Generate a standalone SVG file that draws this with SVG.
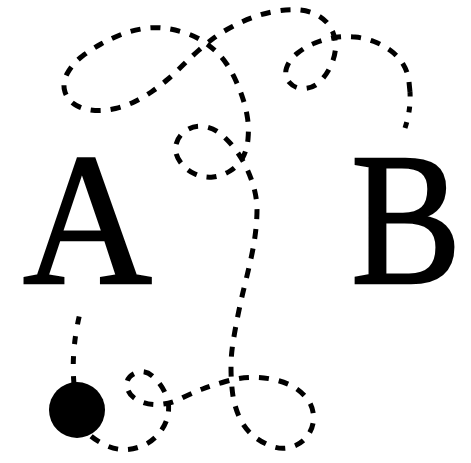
<svg xmlns="http://www.w3.org/2000/svg" width="471" height="463" viewBox="0 0 471 463">
<style>
.lbl{font-family:"Liberation Serif","Times New Roman",serif;font-size:188px;fill:#000;stroke:#000;stroke-width:2.6}
.trail{fill:none;stroke:#000;stroke-width:5;stroke-dasharray:10 10}
.tip{fill:none;stroke:#000;stroke-width:5;stroke-dasharray:6 10}
</style>
<rect width="471" height="463" fill="#fff"/>
<g id="connectors">
<path class="tip" d="M405,128 Q411,110 410,92"/>
<path class="trail" d="M410,92 L409,82 Q408,72 403,64 Q398,56 390.5,50.5 Q383,45 374,41.5 Q365,38 355,37 Q345,36 335,37.5 Q325,39 315,43 Q305,47 297,53.5 Q289,60 286.5,68 Q284,76 289.5,82.5 Q295,89 304.5,88.5 Q314,88 321,80.5 Q328,73 332,63 Q336,53 335.5,44 Q335,35 330.5,27.5 Q326,20 318,15.5 Q310,11 299.5,10 Q289,9 277,11 Q265,13 254,17 Q243,21 232.5,26.5 Q222,32 214.5,37.5 Q207,43 198.5,50.5 Q190,58 182.5,65.5 Q175,73 167.5,79.5 Q160,86 152,91.5 Q144,97 135,101.5 Q126,106 115.5,108.5 Q105,111 95,110.5 Q85,110 76.5,105.5 Q68,101 65,92 Q62,83 67.5,73 Q73,63 82.5,56 Q92,49 101,44 Q110,39 120,35 Q130,31 141,29 Q152,27 162.5,28 Q173,29 184,32.5 Q195,36 202.5,41 Q210,46 216,51.5 Q222,57 227,64.5 Q232,72 236,81 Q240,90 243,99 Q246,108 247.5,118 Q249,128 248,139 Q247,150 242.5,158 Q238,166 230,171 Q222,176 213,177 Q204,178 195,174 Q186,170 180,161.5 Q174,153 176,144.5 Q178,136 186,130.5 Q194,125 204,126.5 Q214,128 222,135 Q230,142 236.5,151 Q243,160 247.5,170 Q252,180 254.5,190 Q257,200 257,210 Q257,220 255.5,232.5 Q254,245 251,258.5 Q248,272 244.5,286 Q241,300 238,315 Q235,330 233,342.5 Q231,355 231,367.5 Q231,380 232.5,392.5 Q234,405 239,416.5 Q244,428 253,435.5 Q262,443 272.5,446.5 Q283,450 293,446.5 Q303,443 308.5,434.5 Q314,426 313.5,416 Q313,406 306.5,398 Q300,390 291,385.5 Q282,381 271,379 Q260,377 249,377.5 Q238,378 225.5,381.5 Q213,385 202.5,389 Q192,393 181,398.5 Q170,404 158.5,404.5 Q147,405 137.5,400 Q128,395 127,386 Q126,377 135.5,373 Q145,369 153.5,377 Q162,385 166,395 Q170,405 168,415 Q166,425 159,433.5 Q152,442 142,446 Q132,450 122,449.5 Q112,449 102,443.5 Q92,438 86,431.5 L80,425"/>
<path class="tip" d="M74,384 Q71,350 80,313" style="stroke-dasharray:8 12"/>
</g>
<g id="node-A"><text class="lbl" transform="translate(23,283) scale(0.95,1)">A</text></g>
<g id="node-B"><text class="lbl" transform="translate(351,283) scale(0.88,1)">B</text></g>
<g id="node-dot"><circle cx="77" cy="410" r="28" fill="#000"/></g>
</svg>
